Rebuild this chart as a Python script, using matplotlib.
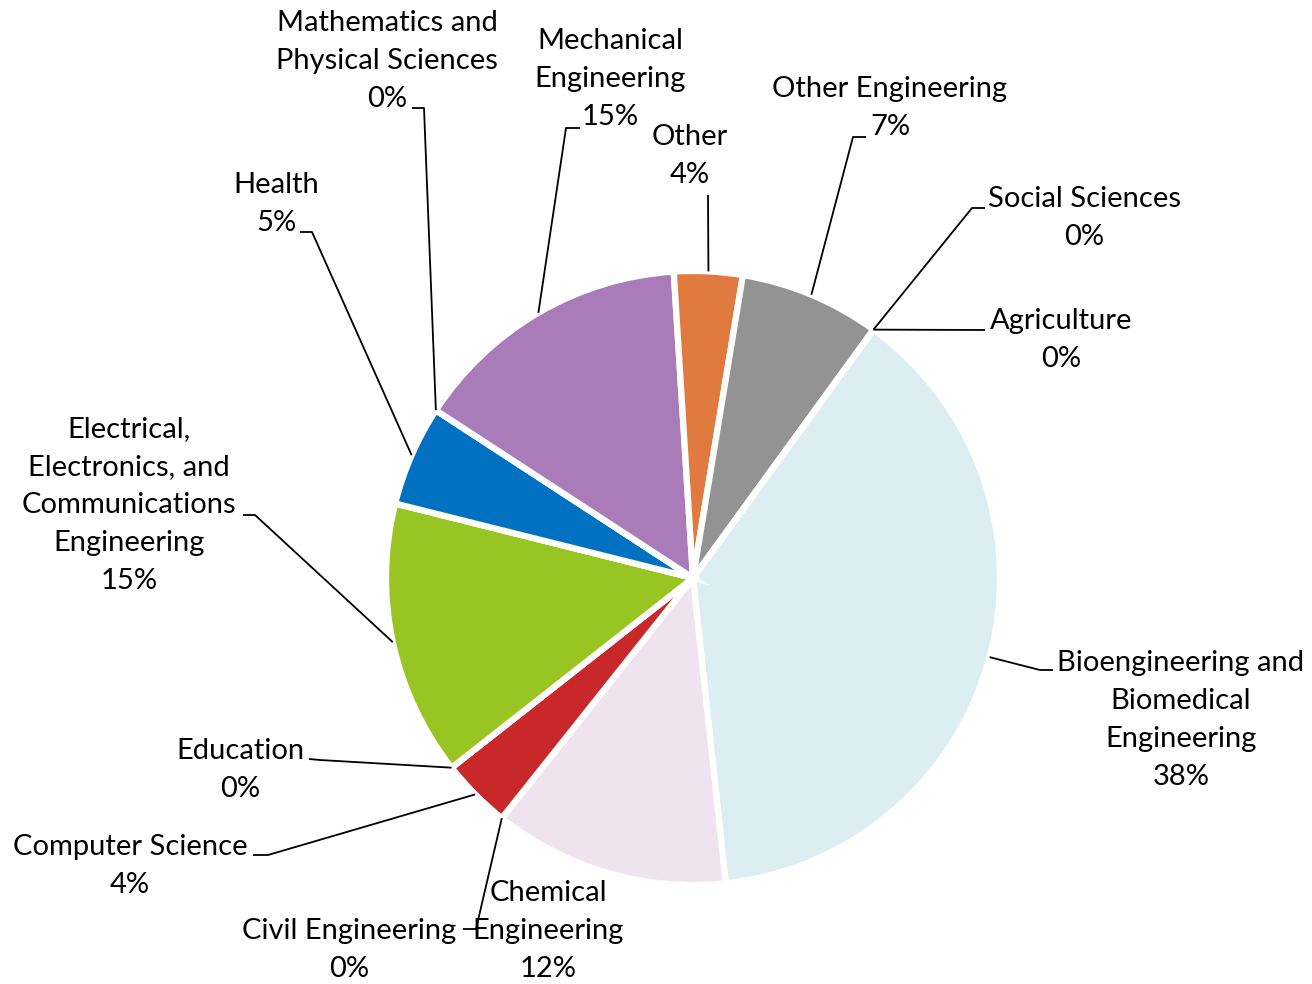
#pie of field shares with excel style leader lines
import matplotlib
matplotlib.use("Agg")
import matplotlib.pyplot as plt
import numpy as np

#data (percent of total, clockwise from the top right)
fields = ["Agriculture", "Bioengineering and\nBiomedical\nEngineering", "Chemical\nEngineering",
          "Civil Engineering", "Computer Science", "Education",
          "Electrical,\nElectronics, and\nCommunications\nEngineering", "Health",
          "Mathematics and\nPhysical Sciences", "Mechanical\nEngineering", "Other",
          "Other Engineering", "Social Sciences"]
shares = [0, 38.3, 12.4, 0, 3.7, 0, 14.5, 5.3, 0, 14.8, 3.6, 7.4, 0]
pct_labels = ["0%", "38%", "12%", "0%", "4%", "0%", "15%", "5%", "0%", "15%", "4%", "7%", "0%"]
colors = ["#4472C4", "#DCEEF2", "#EFE3EF", "#A5A5A5", "#C9282A", "#FFC000",
          "#99C523", "#0070C0", "#5B9BD5", "#A97CB9", "#E07A3E", "#939393", "#264478"]

#layout (pixel coords, y down)
cx, cy, R = 693, 578, 307
label_pos = [(1061, 340), (1181, 720), (548, 931), (349, 950), (130, 866), (240, 770),
             (129, 505), (276, 204), (387, 61), (610, 79), (690, 156), (890, 108), (1084, 218)]
#elbow of leader line and end of short horizontal bit, None = no leader
leaders = [((985, 330), (985, 330)), ((1040, 670), (1053, 670)), None,
           ((476, 929), (463, 929)), ((268, 855), (253, 855)), ((320, 760), (309, 759)),
           ((255, 515), (243, 515)), ((312, 232), (300, 232)), ((424, 108), (412, 108)),
           ((566, 128), (580, 128)), ((708, 195), (708, 195)), ((853, 137), (866, 137)),
           ((972, 208), (985, 208))]

fig = plt.figure(figsize=(13.12, 9.84), dpi=100)
ax = fig.add_axes([0, 0, 1, 1])
wedges, _ = ax.pie(shares, colors=colors, startangle=-54, counterclock=True,
                   center=(cx, cy), radius=R, frame=False,
                   wedgeprops=dict(edgecolor="white", linewidth=4.5))
ax.set_xlim(0, 1312)
ax.set_ylim(984, 0)
ax.set_aspect("equal")
ax.axis("off")

for i in range(len(fields)):
	w = wedges[i]
	mid = np.deg2rad((w.theta1 + w.theta2) / 2.)
	px = cx + R * np.cos(mid)
	py = cy + R * np.sin(mid)
	if leaders[i] is not None:
		(ex, ey), (hx, hy) = leaders[i]
		ax.plot([px, ex, hx], [py, ey, hy], color="black", lw=1.3, solid_capstyle="butt")
	lx, ly = label_pos[i]
	ax.text(lx, ly, fields[i] + "\n" + pct_labels[i], ha="center", va="center",
	        multialignment="center", fontsize=21, family="Lato", color="black",
	        linespacing=1.58)

fig.savefig("out.png", dpi=100)
